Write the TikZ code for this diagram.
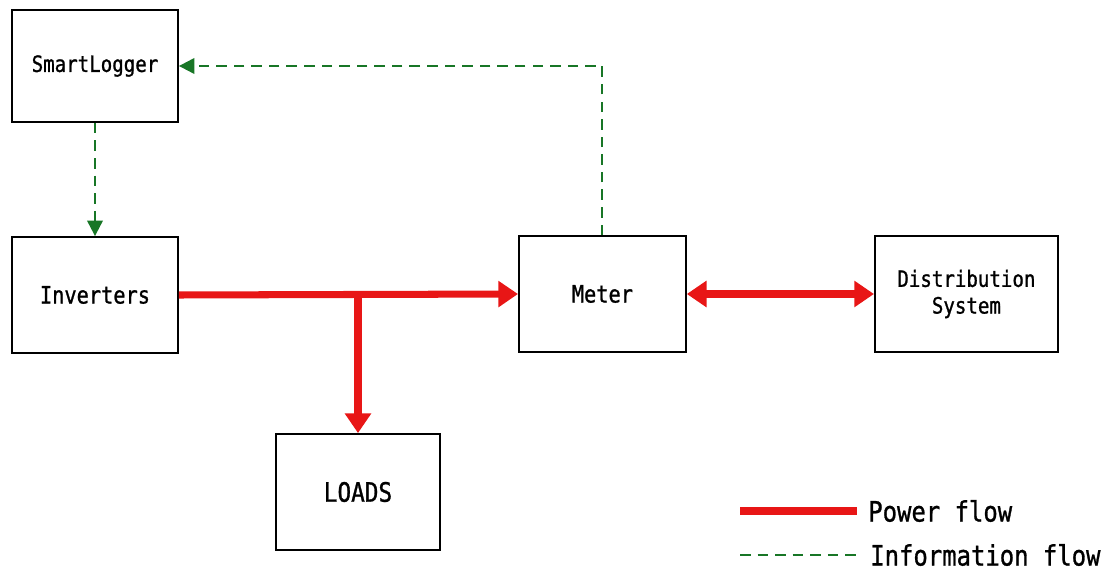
\documentclass[tikz,border=0pt]{standalone}
\usepackage{fontspec}
\usetikzlibrary{arrows.meta}
\newfontfamily\diagfont[FakeStretch=0.85,FakeBold=1]{DejaVu Sans Mono}
\definecolor{powerred}{RGB}{232,22,22}
\definecolor{infogreen}{RGB}{24,118,38}
\begin{document}
\begin{tikzpicture}[
	block/.style = {draw, line width=1.3pt, minimum width=4.15cm, minimum height=2.9cm,
		inner sep=0pt, align=center, font=\diagfont\fontsize{17}{19}\selectfont},
	power/.style = {draw=powerred, line width=5pt},
	info/.style = {draw=infogreen, line width=1.5pt, dash pattern=on 7.5pt off 5pt},
	powertip/.style = {-{Triangle[length=14pt,width=18pt]}},
	infotip/.style = {-{Triangle[length=11pt,width=11pt]}},
	legend/.style = {anchor=west, inner sep=0pt, font=\diagfont\fontsize{20}{22}\selectfont}
	]
	\useasboundingbox (0,0) rectangle (27.8,-14.325);
	% boxes
	\node (logger) at (2.375,-1.65) [block, minimum height=2.8cm, font=\diagfont\fontsize{16}{19}\selectfont] {SmartLogger};
	\node (inverters) at (2.375,-7.375) [block] {Inverters};
	\node (meter) at (15.06,-7.35) [block, minimum width=4.175cm] {Meter};
	\node (grid) at (24.16,-7.35) [block, minimum width=4.575cm, font=\diagfont\fontsize{16}{19}\selectfont] {
		Distribution\\ System
	};
	\node (loads) at (8.95,-12.3) [block, minimum width=4.1cm, font=\diagfont\fontsize{19}{22}\selectfont] {LOADS};
	% power flow
	\coordinate (tee) at (inverters.east -| loads.north);
	\draw[power, powertip] (inverters.east) -- (meter.west);
	\draw[power, powertip] (tee) -- (loads.north);
	\draw[power, {Triangle[length=14pt,width=18pt]}-{Triangle[length=14pt,width=18pt]}] (meter.east) -- (grid.west);
	% information flow
	\draw[info, infotip] (logger.south) -- (inverters.north);
	\draw[info, infotip] (meter.north) |- (logger.east);
	% legend
	\node (powerlbl) at (21.7,-12.775) [legend] {Power flow};
	\node (infolbl) at (21.75,-13.875) [legend] {Information flow};
	\coordinate (powerstart) at (18.5,-12.775);
	\coordinate (infostart) at (18.5,-13.875);
	\draw[power, shorten >=8pt] (powerstart) -- (powerlbl.west);
	\draw[info, shorten >=9pt] (infostart) -- (infolbl.west);
\end{tikzpicture}
\end{document}
